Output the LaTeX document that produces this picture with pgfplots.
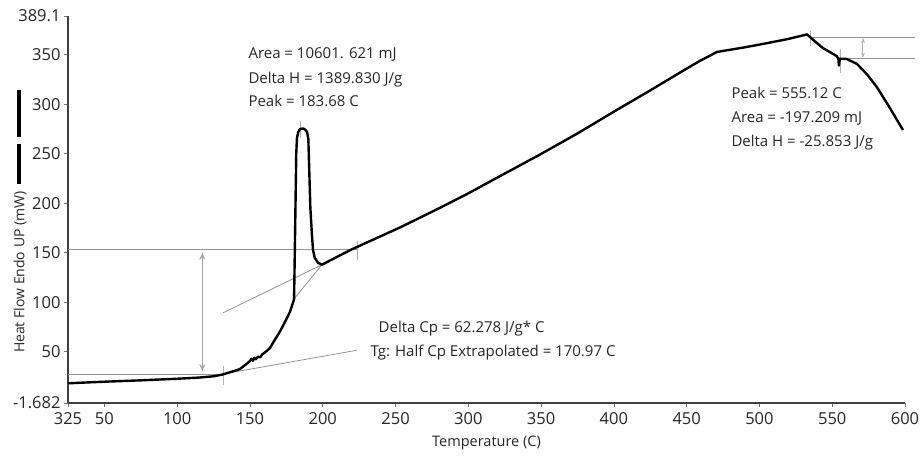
\documentclass[border=0pt]{standalone}
\usepackage{fontspec}
\setmainfont{Open Sans}
\usepackage{pgfplots}
\pgfplotsset{compat=1.18}
\usetikzlibrary{arrows.meta}

\pgfplotstableread{
x y
25 18.2
40 19.2
50 19.8
75 21.2
100 22.8
115 24.0
125 25.3
131 27.0
135 28.8
140 31.0
143 32.5
147 37
150 40.7
151 43
152 41
153 44
154 42.5
155.5 45
157 44.5
158.5 47.5
160 49
162 51.5
163.8 54
167 62
170.6 70.5
174 80
177.5 90.4
180.3 103
180.8 150
181.3 200
181.8 250
182.3 266
183.2 272
184.4 275
186.5 275.5
187.8 274.5
189.2 272
190.1 265
190.8 230
191.5 195
192.5 170
193.3 153
194.5 145
196.7 140
199.5 138
210 146
220 153.5
235 163.5
253 175.5
280 195
300 210
320 226
349 249
375 270.5
400 292.5
425 314
450 336
459 343.7
470.8 352.8
490 357.5
505 361.6
520 366
532.7 370.5
538 363.6
543.7 356.6
548 353
553 348.7
554.2 346
554.6 339
555.2 346
560 345.7
567 340.7
574 330
580.8 317
589.7 296
598.6 274
}\dscdata

\begin{document}
\begin{tikzpicture}
\path[use as bounding box] (-68pt,-54pt) rectangle (852pt,403pt);
\begin{axis}[
    at={(0,0)}, anchor=south west,
    width=837pt, height=387pt, scale only axis,
    xmin=25, xmax=600, ymin=-1.682, ymax=389.1,
    axis lines=left,
    axis line style={-, line width=1.2pt, black!75},
    xtick={25,50,100,150,200,250,300,350,400,450,500,550,600},
    xticklabels={325,50,100,150,200,250,300,350,400,450,500,550,600},
    ytick={-1.682,50,100,150,200,250,300,350,389.1},
    yticklabels={-1.682,50,100,150,200,250,300,350,389.1},
    tick align=outside,
    major tick length=4pt,
    tick style={black!55, line width=0.7pt},
    /pgf/number format/assume math mode=true,
    tick label style={font=\fontsize{16.5}{18}\selectfont, black!85},
    xticklabel style={yshift=-2pt},
    xlabel={Temperature (C)},
    xlabel style={font=\fontsize{14.5}{16}\selectfont, black!85,
        at={(axis description cs:0.5,-0.1034)}, anchor=center},
    ylabel={Heat Flow Endo UP (mW)},
    ylabel style={name=ylab, font=\fontsize{14}{16}\selectfont, black!85,
        at={(axis description cs:-0.0573,0.338)}, anchor=center},
    clip=false,
]
% annotation lines
\addplot[gray!85, line width=0.8pt] coordinates {(25,153) (223.5,153)};
\addplot[gray!85, line width=0.8pt] coordinates {(25,27.6) (131.5,27.6)};
\addplot[gray!85, line width=0.8pt] coordinates {(131.5,27.6) (223.5,51.6)};
\addplot[gray!85, line width=0.8pt] coordinates {(131.5,89.4) (199.5,138)};
\addplot[gray!85, line width=0.8pt] coordinates {(199.5,138) (180,103)};
\addplot[gray!60, line width=0.7pt] coordinates {(131.5,16) (131.5,36)};
\addplot[gray!60, line width=0.7pt] coordinates {(223.5,143) (223.5,162)};
\addplot[gray!60, line width=0.7pt] coordinates {(184.4,266) (184.4,283)};
\addplot[gray!70, line width=1.4pt, {Stealth[length=7pt,width=6pt]}-{Stealth[length=7pt,width=6pt]}] coordinates {(117.3,150) (117.3,30.5)};
\addplot[gray!85, line width=0.8pt] coordinates {(534.7,367.8) (606.8,367.8)};
\addplot[gray!85, line width=0.8pt] coordinates {(560.2,346) (606.8,346)};
\addplot[gray!60, line width=1pt, {Stealth[length=5pt,width=4pt]}-{Stealth[length=5pt,width=4pt]}] coordinates {(571.1,367) (571.1,347)};
\addplot[gray!60, line width=0.7pt] coordinates {(534.7,358.6) (534.7,373.5)};
\addplot[gray!60, line width=0.7pt] coordinates {(555.3,331.8) (555.3,355.6)};
% curve
\addplot[black, line width=2.4pt, line join=round] table[x=x,y=y] {\dscdata};
% texts
\node[anchor=base west, font=\fontsize{15}{17}\selectfont, black!85] at (axis cs:146.6,346.2) {Area = 10601. 621 mJ};
\node[anchor=base west, font=\fontsize{15}{17}\selectfont, black!85] at (axis cs:146.6,321.3) {Delta H = 1389.830 J/g};
\node[anchor=base west, font=\fontsize{15}{17}\selectfont, black!85] at (axis cs:146.6,297.5) {Peak = 183.68 C};
\node[anchor=base west, font=\fontsize{15}{17}\selectfont, black!85] at (axis cs:478.4,305.5) {Peak = 555.12 C};
\node[anchor=base west, font=\fontsize{15}{17}\selectfont, black!85] at (axis cs:478.4,281.6) {Area = -197.209 mJ};
\node[anchor=base west, font=\fontsize{15}{17}\selectfont, black!85] at (axis cs:478.4,257.8) {Delta H = -25.853 J/g};
\node[anchor=base west, font=\fontsize{15}{17}\selectfont, black!85] at (axis cs:236,70) {Delta Cp = 62.278 J/g* C};
\node[anchor=base west, font=\fontsize{15}{17}\selectfont, black!85] at (axis cs:230.4,45.2) {Tg: Half Cp Extrapolated = 170.97 C};
\end{axis}
% legend-like bars above the y label
\draw[black, line width=3.5pt] ([xshift=-1pt,yshift=4pt]ylab.east) -- ++(0,40pt);
\draw[black, line width=3.5pt] ([xshift=-1pt,yshift=51pt]ylab.east) -- ++(0,47pt);
\end{tikzpicture}
\end{document}
